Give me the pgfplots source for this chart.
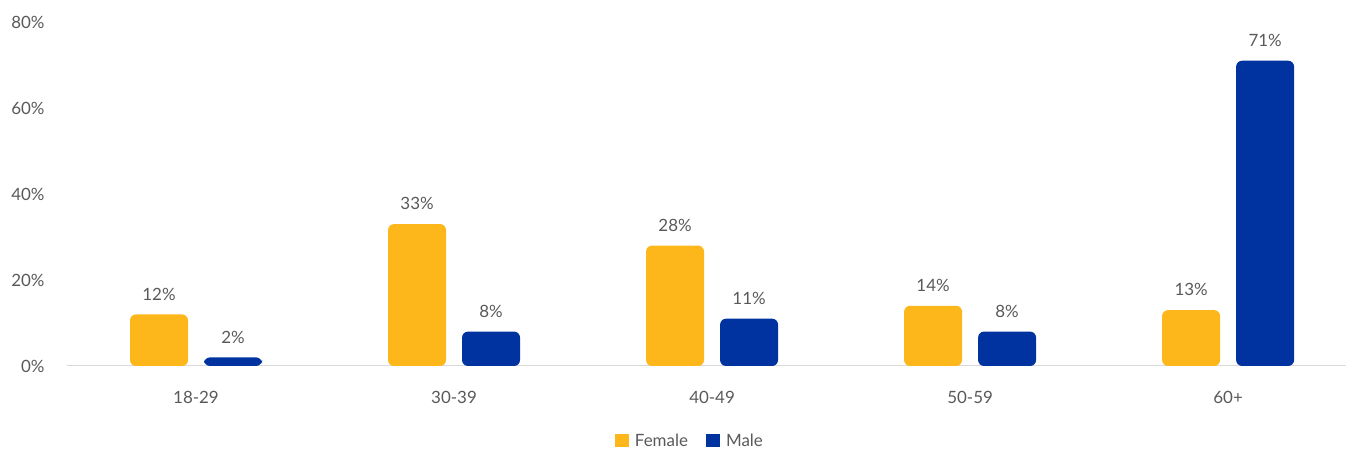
\documentclass[border=0pt]{standalone}
\usepackage{fontspec}
\setmainfont{Lato}
\usepackage{pgfplots}
\pgfplotsset{compat=1.18}
\definecolor{fem}{HTML}{FDB71A}
\definecolor{mal}{HTML}{0033A0}
\definecolor{txt}{HTML}{595959}
\definecolor{axl}{HTML}{D9D9D9}
\newcommand{\lblfont}{\fontsize{17}{19}\selectfont}
\begin{document}
\begin{tikzpicture}[x=1bp,y=1bp]
\useasboundingbox (0,0) rectangle (1346,450);
\begin{axis}[
  at={(67bp,84bp)}, anchor=south west, scale only axis,
  width=1279bp, height=344bp,
  xmin=-0.5, xmax=4.457, ymin=0, ymax=80,
  axis x line*=bottom, axis y line*=left,
  x axis line style={-, draw=axl, line width=1bp},
  y axis line style={draw=none},
  major tick length=0pt,
  ytick={0,20,40,60,80},
  yticklabel={\pgfmathprintnumber{\tick}\%},
  xtick={0,1,2,3,4},
  xticklabels={18-29,30-39,40-49,50-59,60+},
  tick label style={font=\lblfont, text=txt},
  yticklabel style={anchor=east, xshift=-19bp},
  xticklabel style={anchor=north, yshift=-22bp},
  /pgf/number format/assume math mode=true,
  ybar, bar width=58bp,
  nodes near coords={\pgfmathprintnumber[assume math mode=true]{\pgfplotspointmeta}\%},
  nodes near coords style={font=\lblfont, text=txt, anchor=south, yshift=10.5bp},
  legend columns=2,
  legend style={draw=none, fill=none, font=\lblfont, text=txt,
    at={(0.487,-0.218)}, anchor=center,
    /tikz/every odd column/.append style={column sep=4bp},
    /tikz/every even column/.append style={column sep=16bp}},
  legend image code/.code={\fill[#1, sharp corners] (0bp,-6.5bp) rectangle (14bp,6.5bp);},
]
\addplot[fill=fem, draw=none, bar shift=-37bp, rounded corners=6bp]
  coordinates {(0,12) (1,33) (2,28) (3,14) (4,13)};
\addplot[fill=mal, draw=none, bar shift=37bp, rounded corners=6bp]
  coordinates {(0,2) (1,8) (2,11) (3,8) (4,71)};
\legend{Female, Male}
\end{axis}
\end{tikzpicture}
\end{document}
